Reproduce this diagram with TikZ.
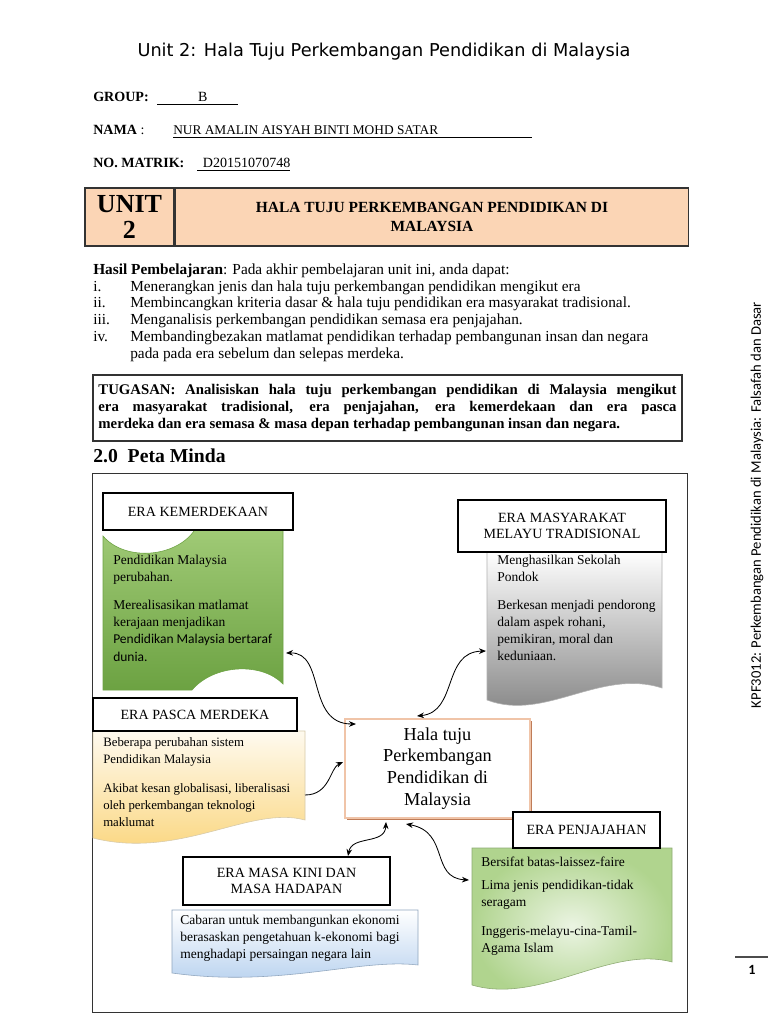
\documentclass[tikz,border=0pt]{standalone}
\usepackage{fontspec}
\setmainfont{Liberation Serif}
\newfontfamily\judulfont{DejaVu Sans}
\newfontfamily\calfont{Carlito}
\usepackage{tikz}
\usetikzlibrary{arrows.meta,positioning,shadows}
\definecolor{peach}{RGB}{251,213,181}
\definecolor{salmon}{RGB}{240,196,168}
\definecolor{shadowbrown}{RGB}{185,110,70}
\definecolor{kmgreen}{RGB}{108,162,66}
\definecolor{kmgreenlt}{RGB}{160,202,118}
\definecolor{trgrey}{RGB}{128,128,128}
\definecolor{pmyellow}{RGB}{250,212,120}
\definecolor{pjgreen}{RGB}{176,212,142}
\definecolor{mkblue}{RGB}{180,207,238}

\begin{document}
\begin{tikzpicture}[x=0.025cm,y=-0.025cm,
  teks/.style={anchor=base west,inner sep=0pt,font=\fontsize{10.9}{12.5}\selectfont},
  hdrbox/.style={draw=black!80,line width=1pt,fill=peach,minimum height=1.45cm,align=center},
  erabox/.style={draw,line width=2pt,fill=white,align=center,inner sep=0pt,
                 font=\fontsize{10}{11}\selectfont},
  isi/.style={anchor=north west,inner sep=0pt,align=left,font=\fontsize{9.6}{12}\selectfont},
  halabox/.style={draw=salmon,line width=1pt,fill=white,align=center,
                  minimum width=4.625cm,minimum height=2.475cm,font=\fontsize{13}{15.5}\selectfont,
                  drop shadow={shadow xshift=1.3pt,shadow yshift=-1.3pt,fill=shadowbrown,opacity=0.9}},
  arr/.style={<->,>={Stealth[length=5pt,width=4pt]},semithick}]
  \fill[white] (0,0) rectangle (768,1024);
  \useasboundingbox (0,0) rectangle (768,1024);

  % Kepala halaman
  \node[font=\judulfont\fontsize{12.6}{14}\selectfont] (judul) at (384,52) {Unit 2: Hala Tuju Perkembangan Pendidikan di Malaysia};
  \node[teks,font=\bfseries\fontsize{10}{12}\selectfont] (group) at (93,102) {GROUP:};
  \node[teks,font=\fontsize{10}{12}\selectfont] (groupv) at (157,102) {\underline{\hspace{29pt}B\hspace{22pt}}};
  \node[teks,font=\fontsize{10}{12}\selectfont] (nama) at (93,135) {\textbf{NAMA} :};
  \node[teks,font=\fontsize{9.5}{12}\selectfont] (namav) at (173,135) {\underline{\makebox[255pt][l]{NUR AMALIN AISYAH BINTI MOHD SATAR}}};
  \node[teks,font=\bfseries\fontsize{10}{12}\selectfont] (matrik) at (93,168) {NO. MATRIK:};
  \node[teks,font=\fontsize{10}{12}\selectfont] (matrikv) at (197,168) {\underline{\hspace{4pt}D20151070748}};

  % Jadual unit
  \node[hdrbox,minimum width=2.225cm,font=\bfseries\fontsize{18.5}{19}\selectfont] (unit) at (129.5,217) {UNIT\\2};
  \node[hdrbox,minimum width=12.825cm,right=0pt of unit,font=\bfseries\fontsize{11}{14}\selectfont] (hdr) {HALA TUJU PERKEMBANGAN PENDIDIKAN DI\\MALAYSIA};

  % Hasil pembelajaran
  \node[teks] (hasil) at (93,275) {\textbf{Hasil Pembelajaran}: Pada akhir pembelajaran unit ini, anda dapat:};
  \node[teks] (n1) at (93,291) {i.};
  \node[teks] (n2) at (93,307) {ii.};
  \node[teks] (n3) at (93,324) {iii.};
  \node[teks] (n4) at (93,341) {iv.};
  \node[teks] (h1) at (130,291) {Menerangkan jenis dan hala tuju perkembangan pendidikan mengikut era};
  \node[teks] (h2) at (130,307) {Membincangkan kriteria dasar \& hala tuju pendidikan era masyarakat tradisional.};
  \node[teks] (h3) at (130,324) {Menganalisis perkembangan pendidikan semasa era penjajahan.};
  \node[teks] (h4) at (130,341) {Membandingbezakan matlamat pendidikan terhadap pembangunan insan dan negara};
  \node[teks] (h4b) at (130,358) {pada pada era sebelum dan selepas merdeka.};

  \node[draw=black!80,line width=1pt,text width=14.45cm,inner xsep=0.14cm,minimum height=1.65cm,
        align=justify,font=\bfseries\fontsize{10.5}{12.4}\selectfont] (tugas) at (387.5,408)
    {TUGASAN: Analisiskan hala tuju perkembangan pendidikan di Malaysia mengikut\linebreak
     era masyarakat tradisional, era penjajahan, era kemerdekaan dan era pasca\linebreak
     merdeka dan era semasa \& masa depan terhadap pembangunan insan dan negara.};

  \node[teks,font=\bfseries\fontsize{14}{15}\selectfont] (peta) at (93,462) {2.0\hspace{7pt}Peta Minda};
  \draw[black!80] (92,473) rectangle (687,1012);

  % Bentuk dokumen
  \shadedraw[top color=kmgreenlt,bottom color=kmgreen,draw=kmgreen]
    (103,536) .. controls (125,562) and (178,558) .. (196,528) -- (283,528) -- (283,684)
    .. controls (262,662) and (214,664) .. (192,690) -- (103,690) -- cycle;
  \shadedraw[top color=white,bottom color=trgrey,draw=black!30]
    (487,551) -- (662,551) -- (662,688) .. controls (600,668) and (545,722) .. (487,700) -- cycle;
  \shadedraw[top color=pmyellow!12!white,bottom color=pmyellow,draw=pmyellow!70!black!50]
    (93,731) -- (305,731) -- (305,820) .. controls (250,805) and (180,860) .. (93,838) -- cycle;
  \shadedraw[inner color=pjgreen!25!white,outer color=pjgreen,draw=pjgreen!80!black]
    (472,848) -- (672,848) -- (672,962) .. controls (610,945) and (540,1005) .. (472,985) -- cycle;
  \shadedraw[top color=white,bottom color=mkblue,draw=mkblue!80!black]
    (172,910) -- (418,910) -- (418,965) .. controls (360,958) and (280,988) .. (172,973) -- cycle;

  % Pusat
  \node[halabox] (hala) at (437.5,768.5) {Hala tuju\\Perkembangan\\Pendidikan di\\Malaysia};

  % Kotak era
  \node[erabox,minimum width=4.75cm,minimum height=0.925cm] (km) at (198,511.5) {ERA KEMERDEKAAN};
  \node[erabox,minimum width=5.2cm,minimum height=1.3cm] (tr) at (562,526) {ERA MASYARAKAT\\MELAYU TRADISIONAL};
  \node[erabox,minimum width=5.1cm,minimum height=0.825cm] (pm) at (195,714.5) {ERA PASCA MERDEKA};
  \node[erabox,minimum width=3.675cm,minimum height=0.9cm] (pj) at (586.5,830) {ERA PENJAJAHAN};
  \node[erabox,minimum width=5.175cm,minimum height=1.2cm] (mk) at (286.5,881) {ERA MASA KINI DAN\\MASA HADAPAN};

  % Isi
  \node[isi] (kmisi) at (113,555) {Pendidikan Malaysia\\perubahan.\\[8pt]Merealisasikan matlamat\\kerajaan menjadikan\\
    {\calfont\fontsize{9.6}{12}\selectfont Pendidikan Malaysia bertaraf}\\[1pt]{\calfont\fontsize{9.6}{12}\selectfont dunia.}};
  \node[isi] (trisi) at (497,555) {Menghasilkan Sekolah\\Pondok\\[8pt]Berkesan menjadi pendorong\\dalam aspek rohani,\\pemikiran, moral dan\\keduniaan.};
  \node[isi,font=\fontsize{9.1}{12}\selectfont] (pmisi) at (103,737) {Beberapa perubahan sistem\\Pendidikan Malaysia\\[9pt]Akibat kesan globalisasi, liberalisasi\\oleh perkembangan teknologi\\maklumat};
  \node[isi] (pjisi) at (481,857) {Bersifat batas-laissez-faire\\[4pt]Lima jenis pendidikan-tidak\\seragam\\[9pt]Inggeris-melayu-cina-Tamil-\\Agama Islam};
  \node[isi] (mkisi) at (180,915) {Cabaran untuk membangunkan ekonomi\\berasaskan pengetahuan k-ekonomi bagi\\menghadapi persaingan negara lain};

  % Hujung anak panah
  \coordinate (km-tip) at (286,653);
  \coordinate (tr-tip) at (486,651);
  \coordinate (pm-out) at (305,795);
  \coordinate (mk-tip) at (348,856);
  \coordinate (pj-tip) at (469,880);
  \coordinate (hala-km) at (356,724);
  \coordinate (hala-tr) at (417,716);
  \coordinate (hala-pm) at (343,762);
  \coordinate (hala-mk) at (386,822);
  \coordinate (hala-pj) at (406,824);

  \draw[arr] (km-tip) .. controls (326,652) and (306,724) .. (hala-km);
  \draw[arr] (hala-tr) .. controls (458,712) and (442,652) .. (tr-tip);
  \draw[arr,<-] (hala-pm) .. controls (330,768) and (330,795) .. (pm-out);
  \draw[arr] (hala-mk) .. controls (385,845) and (352,835) .. (mk-tip);
  \draw[arr] (hala-pj) .. controls (450,832) and (430,878) .. (pj-tip);

  % Tepi halaman
  \node[rotate=90,font=\calfont\fontsize{10.4}{11}\selectfont] (kaki) at (757,505) {KPF3012: Perkembangan Pendidikan di Malaysia: Falsafah dan Dasar};
  \draw[black!70,line width=1pt] (735,957) -- (768,957);
  \node[font=\calfont\bfseries\fontsize{10}{12}\selectfont] (mukasurat) at (752,970) {1};
\end{tikzpicture}
\end{document}
